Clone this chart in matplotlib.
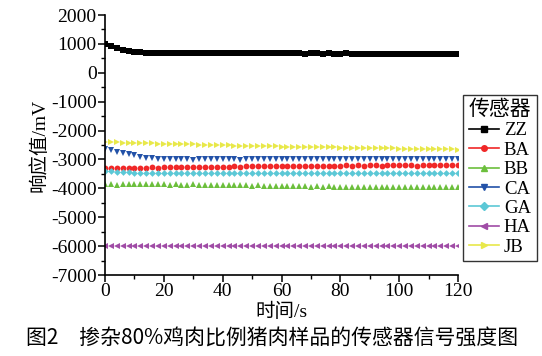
import matplotlib
matplotlib.use("Agg")
import matplotlib.pyplot as plt
from matplotlib.lines import Line2D
from matplotlib.ticker import MultipleLocator

# ---------------- data ----------------
time_s = list(range(0, 121, 2))
sensors = ["ZZ", "BA", "BB", "CA", "GA", "HA", "JB"]

ZZ = [1000, 930, 865, 805, 760, 728, 705, 692, 686, 682,
      680, 678, 676, 677, 674, 675, 673, 674, 672, 673,
      671, 672, 670, 671, 672, 670, 669, 671, 670, 668,
      669, 670, 668, 669, 667, 668, 669, 667, 668, 666,
      667, 668, 666, 667, 665, 666, 667, 665, 666, 664,
      665, 666, 664, 665, 664, 666, 664, 665, 663, 664,
      664]
BA = [-3290, -3285, -3290, -3280, -3290, -3285, -3280, -3285, -3275, -3280,
      -3270, -3275, -3265, -3270, -3260, -3265, -3255, -3260, -3250, -3255,
      -3245, -3250, -3240, -3245, -3235, -3240, -3230, -3235, -3225, -3230,
      -3225, -3220, -3225, -3215, -3220, -3215, -3220, -3210, -3215, -3210,
      -3215, -3205, -3210, -3205, -3210, -3200, -3205, -3210, -3200, -3205,
      -3200, -3205, -3200, -3210, -3200, -3205, -3195, -3200, -3205, -3195,
      -3200]
BB = [-3860, -3850, -3870, -3845, -3860, -3855, -3840, -3865, -3850, -3845,
      -3860, -3875, -3855, -3870, -3880, -3865, -3885, -3870, -3880, -3890,
      -3875, -3895, -3885, -3900, -3890, -3905, -3895, -3920, -3910, -3925,
      -3915, -3930, -3920, -3935, -3925, -3940, -3930, -3945, -3935, -3950,
      -3940, -3955, -3945, -3960, -3950, -3965, -3955, -3960, -3950, -3965,
      -3955, -3970, -3960, -3965, -3955, -3970, -3960, -3965, -3955, -3970,
      -3965]
CA = [-2650, -2690, -2730, -2775, -2820, -2860, -2900, -2935, -2965, -2985,
      -2990, -3000, -2995, -3000, -2990, -3005, -2995, -3000, -2990, -3000,
      -2995, -3000, -2990, -3005, -2995, -3000, -2990, -2995, -3000, -2990,
      -3000, -2995, -2990, -3000, -2995, -2990, -3000, -2995, -2990, -3000,
      -2995, -2990, -3000, -2995, -2990, -2995, -3000, -2990, -2995, -2990,
      -3000, -2995, -2990, -2995, -3000, -2990, -2995, -2990, -3000, -2995,
      -2990]
GA = [-3390, -3410, -3425, -3440, -3450, -3460, -3465, -3470, -3475, -3478,
      -3480, -3475, -3482, -3478, -3480, -3476, -3483, -3478, -3480, -3475,
      -3482, -3478, -3480, -3476, -3483, -3479, -3480, -3475, -3482, -3478,
      -3480, -3476, -3483, -3478, -3480, -3475, -3482, -3478, -3480, -3476,
      -3483, -3478, -3480, -3475, -3482, -3478, -3480, -3476, -3483, -3479,
      -3480, -3475, -3482, -3478, -3480, -3476, -3483, -3478, -3480, -3475,
      -3480]
HA = [-6000, -5995, -6005, -6000, -5998, -6002, -6000, -6004, -5996, -6000,
      -6003, -5997, -6000, -6002, -5998, -6000, -6005, -5995, -6000, -6002,
      -5998, -6000, -6004, -5996, -6000, -6003, -5997, -6000, -6002, -5998,
      -6000, -6005, -5995, -6000, -6002, -5998, -6000, -6004, -5996, -6000,
      -6003, -5997, -6000, -6002, -5998, -6000, -6005, -5995, -6000, -6002,
      -5998, -6000, -6004, -5996, -6000, -6003, -5997, -6000, -6002, -5998,
      -6000]
JB = [-2400, -2405, -2410, -2415, -2420, -2425, -2430, -2440, -2445, -2450,
      -2455, -2460, -2465, -2470, -2478, -2482, -2490, -2495, -2500, -2505,
      -2510, -2515, -2520, -2522, -2528, -2532, -2536, -2540, -2545, -2550,
      -2553, -2556, -2560, -2565, -2568, -2572, -2576, -2580, -2583, -2586,
      -2590, -2594, -2597, -2600, -2604, -2607, -2610, -2614, -2617, -2620,
      -2623, -2626, -2630, -2633, -2636, -2640, -2643, -2646, -2650, -2653,
      -2656]

series = [ZZ, BA, BB, CA, GA, HA, JB]
colors = ["#000000", "#f02828", "#6cbf3c", "#2352a8", "#5cc8d6", "#a04ca6", "#e8e84a"]
markers = ["s", "o", "^", "v", "D", "<", ">"]
msizes = [4.4, 4.2, 4.2, 4.2, 3.4, 4.2, 4.2]

serif = ["Liberation Serif", "Noto Sans CJK SC"]
plt.rcParams["font.family"] = serif
plt.rcParams["axes.unicode_minus"] = False

fig = plt.figure(figsize=(5.42, 3.56), dpi=100)
ax = fig.add_axes([105 / 542, 1 - 275 / 356, (458 - 105) / 542, (275 - 15) / 356])

for y, c, m, ms in zip(series, colors, markers, msizes):
    ax.plot(time_s, y, linestyle="none", marker=m, markersize=ms,
            color=c, markeredgewidth=0)

ax.set_xlim(0, 120)
ax.set_ylim(-7000, 2000)
ax.xaxis.set_major_locator(MultipleLocator(20))
ax.xaxis.set_minor_locator(MultipleLocator(10))
ax.yaxis.set_major_locator(MultipleLocator(1000))
ax.yaxis.set_minor_locator(MultipleLocator(500))
ax.spines["top"].set_visible(False)
ax.spines["right"].set_visible(False)
for s in ("left", "bottom"):
    ax.spines[s].set_linewidth(1.2)
ax.tick_params(which="major", direction="out", length=5, width=1.1,
               labelsize=14, pad=1)
ax.tick_params(which="minor", direction="out", length=3, width=1.0)

ax.set_xlabel("时间/s", fontsize=14, family=serif, labelpad=2)
ax.set_ylabel("响应值/mV", fontsize=14, family=serif, labelpad=2)

handles = [Line2D([0], [0], color=c, marker=m, markersize=4, lw=1.2)
           for c, m in zip(colors, markers)]
leg = fig.legend(handles, sensors, loc="upper left",
                 bbox_to_anchor=(463 / 542, 1 - 95 / 356),
                 title="传感器", fontsize=13.5, title_fontsize=15,
                 frameon=True, fancybox=False, edgecolor="black",
                 handlelength=1.6, handletextpad=0.25, labelspacing=0.12,
                 borderpad=0.3, borderaxespad=0)
leg.get_frame().set_linewidth(1.0)

fig.text(272 / 542, 1 - 338 / 356, "图2\u3000掺杂80%鸡肉比例猪肉样品的传感器信号强度图",
         ha="center", va="center", fontsize=15,
         family=["Noto Sans CJK SC", "DejaVu Sans"])

fig.savefig("out.png", dpi=100)
